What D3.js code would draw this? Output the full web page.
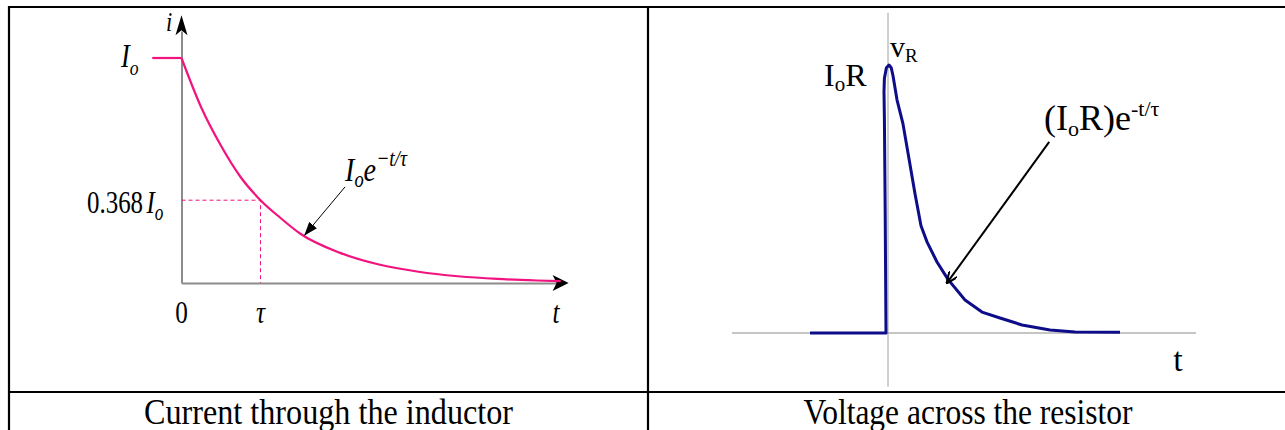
<!DOCTYPE html>
<html>
<head>
<meta charset="utf-8">
<script src="https://cdn.jsdelivr.net/npm/d3@7"></script>
<style>
  body { margin: 0; background: #fff; }
  text { font-family: "Liberation Serif", "Times New Roman", serif; fill: #000; }
</style>
</head>
<body>
<div id="chart"></div>
<script>
// left panel: current through the inductor (t in units of tau, i in units of Io)
var flatT = [-0.37, 0];
var flatI = [1, 1];
var decayT = [0, 0.25, 0.5, 0.75, 1, 1.25, 1.5, 2, 2.5, 3, 3.5, 4, 4.5, 4.8];
var decayI = [1, 0.78, 0.61, 0.47, 0.368, 0.29, 0.22, 0.135, 0.082, 0.05, 0.03, 0.018, 0.011, 0.008];
var markT = 1, markI = 0.368;
var leftTicks = [0, 1, 4.74];
var leftTickLabels = ["0", "\u03c4", "t"];

// right panel: voltage across the resistor
var vT = [-1.95, -0.05, -0.07, -0.09, -0.1, -0.09, -0.04, 0.025, 0.08, 0.125, 0.225, 0.375, 0.525, 0.675, 0.825, 0.975, 1.225, 1.5, 1.925, 2.35, 2.8, 3.35, 4.05, 4.675, 5.8];
var vV = [0, 0, 0.45, 0.8, 0.9, 0.95, 0.99, 1.0, 0.99, 0.96, 0.87, 0.78, 0.65, 0.52, 0.40, 0.34, 0.265, 0.2, 0.123, 0.078, 0.056, 0.03, 0.011, 0.004, 0.003];

var titles = ["Current through the inductor", "Voltage across the resistor"];

// annotation arrows, in data units: [tStart, vStart, tEnd, vEnd]
var leftArrow = [2.07, 0.427, 1.56, 0.213];
var rightArrow = [4.03, 0.713, 1.475, 0.187];

var W = 1285, H = 430;
var pink = "#f2137f", navy = "#0d0d8a";

var svg = d3.select("#chart").append("svg")
  .attr("width", W)
  .attr("height", H);

// table frame
var frame = svg.append("g").attr("stroke", "#000").attr("stroke-width", 2.2);
frame.append("line").attr("x1", 8).attr("x2", 1290).attr("y1", 7).attr("y2", 7);
frame.append("line").attr("x1", 8).attr("x2", 1290).attr("y1", 392).attr("y2", 392);
frame.append("line").attr("x1", 9).attr("x2", 9).attr("y1", 6).attr("y2", 440);
frame.append("line").attr("x1", 648).attr("x2", 648).attr("y1", 6).attr("y2", 440);

function mathText(x, y, parts, size, opts) {
  opts = opts || {};
  var t = svg.append("text")
    .attr("transform", "translate(" + x + "," + y + ") scale(" + (opts.sx || 1) + "," + (opts.sy || 1) + ")")
    .attr("font-size", size)
    .attr("text-anchor", opts.anchor || "start");
  parts.forEach(function(p) {
    var s = t.append("tspan").text(p.t);
    if (p.i) s.attr("font-style", "italic");
    if (p.fs) s.attr("font-size", p.fs);
    if (p.dy) s.attr("dy", p.dy);
    if (p.dx) s.attr("dx", p.dx);
  });
  return t;
}

// ---------- left panel ----------
var xL = d3.scaleLinear().domain([0, 1]).range([181.5, 260.5]);
var yL = d3.scaleLinear().domain([0, 1]).range([283, 58]);

var gL = svg.append("g");

gL.append("g")
  .attr("transform", "translate(0," + yL(0) + ")")
  .call(d3.axisBottom(xL.copy().domain([0, 4.85]).range([xL(0), xL(4.85)])).tickValues([]).tickSizeOuter(0))
  .call(function(g) { g.select(".domain").attr("stroke", "#8c8c8c").attr("stroke-width", 2); });

gL.append("g")
  .attr("transform", "translate(" + xL(0) + ",0)")
  .call(d3.axisLeft(yL.copy().domain([0, 1.12]).range([yL(0), yL(1.12)])).tickValues([]).tickSizeOuter(0))
  .call(function(g) { g.select(".domain").attr("stroke", "#8c8c8c").attr("stroke-width", 2); });

// axis arrow heads
gL.append("path")
  .attr("d", "M0,0 L-6,20 L0,15 L6,20 Z")
  .attr("transform", "translate(" + xL(0) + "," + yL(1.19) + ")")
  .attr("fill", "#000");
gL.append("path")
  .attr("d", "M0,0 L-16,-8 L-12,0 L-16,8 Z")
  .attr("transform", "translate(" + xL(4.9) + "," + yL(0) + ")")
  .attr("fill", "#000");

// dashed guides at t = tau
gL.append("path")
  .attr("d", d3.line()([[xL(0), yL(markI)], [xL(markT), yL(markI)], [xL(markT), yL(0)]]))
  .attr("fill", "none")
  .attr("stroke", pink)
  .attr("stroke-width", 1)
  .attr("stroke-dasharray", "4,3");

var lineL = d3.line()
  .x(function(d) { return xL(d[0]); })
  .y(function(d) { return yL(d[1]); });

gL.append("path")
  .datum(d3.zip(flatT, flatI))
  .attr("d", lineL)
  .attr("fill", "none")
  .attr("stroke", pink)
  .attr("stroke-width", 2.2);

gL.append("path")
  .datum(d3.zip(decayT, decayI))
  .attr("d", lineL.curve(d3.curveMonotoneX))
  .attr("fill", "none")
  .attr("stroke", pink)
  .attr("stroke-width", 2.2);

// annotation arrows
var defs = svg.append("defs");
defs.append("marker")
  .attr("id", "headL")
  .attr("viewBox", "0 -5 14 10")
  .attr("refX", 13).attr("refY", 0)
  .attr("markerWidth", 14).attr("markerHeight", 10)
  .attr("markerUnits", "userSpaceOnUse")
  .attr("orient", "auto")
  .append("path").attr("d", "M0,-5 L14,0 L0,5 Z").attr("fill", "#000");
defs.append("marker")
  .attr("id", "headR")
  .attr("viewBox", "0 -5 12 10")
  .attr("refX", 11).attr("refY", 0)
  .attr("markerWidth", 12).attr("markerHeight", 10)
  .attr("markerUnits", "userSpaceOnUse")
  .attr("orient", "auto")
  .append("path").attr("d", "M0,-5 L12,0 L0,5").attr("fill", "none").attr("stroke", "#000").attr("stroke-width", 2);

gL.append("line")
  .attr("x1", xL(leftArrow[0])).attr("y1", yL(leftArrow[1]))
  .attr("x2", xL(leftArrow[2])).attr("y2", yL(leftArrow[3]))
  .attr("stroke", "#000").attr("stroke-width", 1)
  .attr("marker-end", "url(#headL)");

// tick labels along t
leftTicks.forEach(function(t, k) {
  mathText(xL(t), 323, [{t: leftTickLabels[k], i: k > 0}], 28, {anchor: "middle", sx: 0.9, sy: 1.12});
});

mathText(166, 31, [{t: "i", i: true}], 25, {sx: 0.9, sy: 1.1});
mathText(121, 67, [{t: "I", i: true}, {t: "o", i: true, fs: 20, dy: 7}], 30, {sx: 0.88, sy: 1.1});
mathText(87, 213, [{t: "0.368"}, {t: "I", i: true, dx: 4}, {t: "o", i: true, fs: 20, dy: 6}], 29, {sx: 0.86, sy: 1.12});
mathText(345, 181, [
  {t: "I", i: true},
  {t: "o", i: true, fs: 21, dy: 6},
  {t: "e", i: true, dy: -6},
  {t: "\u2212t/\u03c4", i: true, fs: 22, dy: -14}
], 32, {sx: 0.88, sy: 1.08});

// ---------- right panel ----------
var xR = d3.scaleLinear().domain([0, 1]).range([888, 928]);
var yR = d3.scaleLinear().domain([0, 1]).range([333, 65]);

var gR = svg.append("g");

gR.append("line")
  .attr("x1", xR(-3.9)).attr("x2", xR(7.7))
  .attr("y1", yR(0)).attr("y2", yR(0))
  .attr("stroke", "#8c8c8c").attr("stroke-width", 1);
gR.append("line")
  .attr("x1", xR(0)).attr("x2", xR(0))
  .attr("y1", yR(1.195)).attr("y2", yR(-0.2))
  .attr("stroke", "#a0a0a0").attr("stroke-width", 1);

gR.append("path")
  .datum(d3.zip(vT, vV))
  .attr("d", d3.line()
    .x(function(d) { return xR(d[0]); })
    .y(function(d) { return yR(d[1]); }))
  .attr("fill", "none")
  .attr("stroke", navy)
  .attr("stroke-width", 3)
  .attr("stroke-linejoin", "round");

gR.append("line")
  .attr("x1", xR(rightArrow[0])).attr("y1", yR(rightArrow[1]))
  .attr("x2", xR(rightArrow[2])).attr("y2", yR(rightArrow[3]))
  .attr("stroke", "#000").attr("stroke-width", 2)
  .attr("marker-end", "url(#headR)");

mathText(890, 57, [{t: "v"}, {t: "R", fs: 19, dy: 5}], 30);
mathText(824, 86, [{t: "I"}, {t: "o", fs: 21, dy: 5}, {t: "R", dy: -5}], 32);
mathText(1044, 130, [
  {t: "(I"},
  {t: "o", fs: 22, dy: 6},
  {t: "R)e", dy: -6},
  {t: "-t/\u03c4", fs: 22, dy: -14}
], 36);
mathText(1178, 371, [{t: "t"}], 34, {anchor: "middle"});

// ---------- captions ----------
mathText(328.5, 424, [{t: titles[0]}], 35, {anchor: "middle", sx: 0.92});
mathText(968, 424, [{t: titles[1]}], 35, {anchor: "middle", sx: 0.9});
</script>
</body>
</html>
